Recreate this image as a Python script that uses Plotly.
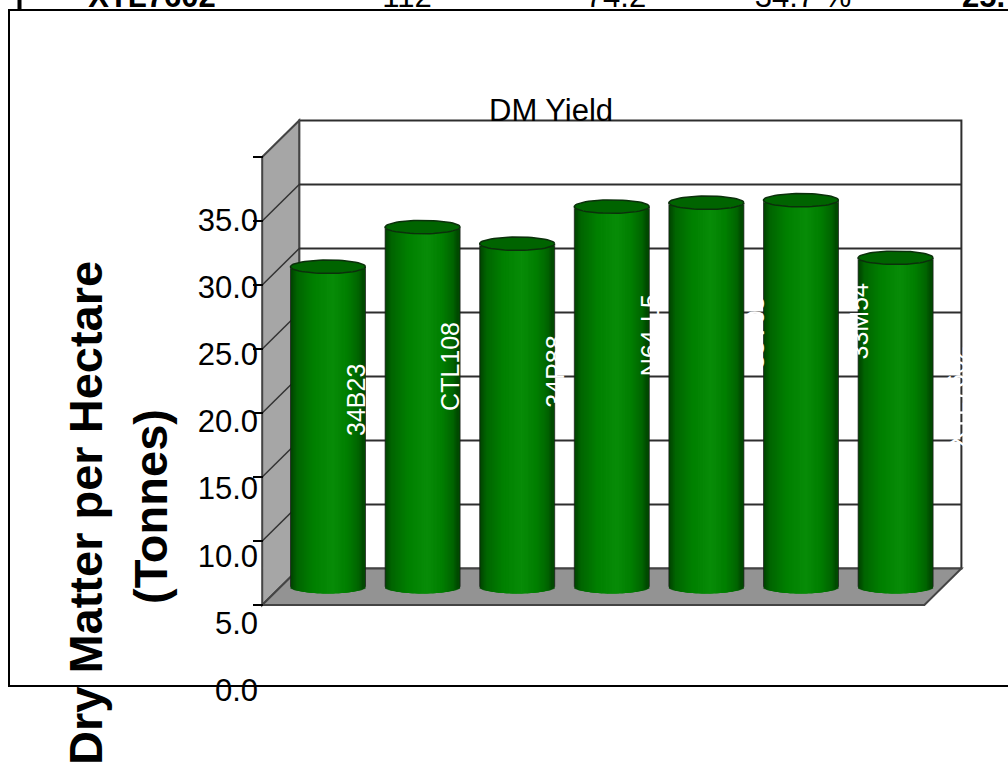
import numpy as np
import plotly.graph_objects as go

# ---- data ----
categories = ["34B23", "CTL108", "34P88", "N64-L5", "33V08", "33M54", "XTL7602"]
dm_yield = [25.0, 28.1, 26.8, 29.7, 30.0, 30.2, 25.7]
axis_ticks = [0, 5, 10, 15, 20, 25, 30, 35]
axis_tick_labels = ["0.0", "5.0", "10.0", "15.0", "20.0", "25.0", "30.0", "35.0"]
table_row = ["XTL7602", "112", "74.2", "34.7 %", "25.7"]

# ---- layout constants ----
W, H = 1008, 764
FONT = "Liberation Sans"
X0_PX, X_UNIT = 309.5, 94.6      # category 0 centre and px per category
Y0_PX, Y_UNIT = 605.0, 12.8      # value 0 and px per value unit
LBL0_PX, LBL_UNIT = 690.0, 13.43 # the drifted label scale of the original
DX, DY = 37 / X_UNIT, 36.5 / Y_UNIT  # chart depth in data units
RX, RY = 37.5 / X_UNIT, 6.7 / Y_UNIT  # ellipse radii of a cylinder
STRIPS = 60

x_range = [-X0_PX / X_UNIT, (W - X0_PX) / X_UNIT]
y_range = [(Y0_PX - H) / Y_UNIT, Y0_PX / Y_UNIT]
y2_range = [(LBL0_PX - H) / LBL_UNIT, LBL0_PX / LBL_UNIT]

# label nudges (pixels) from each bar's category/value position
label_dx = [46.5, 46, 56, 57, 67, 76, 78]
label_dy = [-153, -168, -148, -153, -150, -143, -174]

# table remnant at the very top of the page
table_x_px = [152, 407, 616, 803, 962]
table_bold = [True, False, False, False, True]

# ---- cylinders ----
strip_w = 3.5 / X_UNIT
inset = strip_w / 2 / RX
ts = np.linspace(-1 + inset, 1 - inset, STRIPS)
stops_t = [-1, -0.8, -0.35, 0.15, 0.55, 0.85, 1]
stops_g = [58, 100, 128, 140, 126, 100, 62]
stops_rb = [0, 0, 0, 8, 0, 0, 0]


def strip_colour(t):
    g = np.interp(t, stops_t, stops_g)
    rb = np.interp(t, stops_t, stops_rb)
    return f"rgb({rb:.0f},{g:.0f},{rb:.0f})"


bx, bw, bb, bh, bc = [], [], [], [], []
cap_x, cap_y = [], []
edge_x, edge_y = [], []
theta = np.linspace(0, 2 * np.pi, 60)
for i, v in enumerate(dm_yield):
    cx = i + DX / 2
    floor = DY / 2
    for t in ts:
        lift = RY * np.sqrt(max(0, 1 - t * t))
        bx.append(cx + RX * t)
        bw.append(strip_w)
        bb.append(floor - lift)
        bh.append(v)
        bc.append(strip_colour(t))
    cap_x += list(cx + RX * np.cos(theta)) + [None]
    cap_y += list(floor + v + RY * np.sin(theta)) + [None]
    edge_x += [cx - RX, cx - RX, None, cx + RX, cx + RX, None]
    edge_y += [floor, floor + v, None, floor, floor + v, None]

fig = go.Figure()
fig.add_bar(x=bx, y=bh, base=bb, width=bw, marker=dict(color=bc, line=dict(width=0)),
            hoverinfo="skip", showlegend=False)
fig.add_scatter(x=edge_x, y=edge_y, mode="lines", line=dict(color="rgba(25,25,25,0.7)", width=1),
                hoverinfo="skip", showlegend=False)
fig.add_scatter(x=cap_x, y=cap_y, mode="lines", fill="toself", fillcolor="#006400",
                line=dict(color="#0b300b", width=1.5), hoverinfo="skip", showlegend=False)
# carries the drifted tick-label axis
fig.add_scatter(x=[0] * len(axis_ticks), y=axis_ticks, yaxis="y2", mode="lines", opacity=0,
                hoverinfo="skip", showlegend=False)
# table remnant, clipped by a thin subplot at the top
for tx, txt, bold in zip(table_x_px, table_row, table_bold):
    pos = "top right" if txt == table_row[-1] else "top center"
    fig.add_scatter(x=[tx], y=[-6], xaxis="x3", yaxis="y3", mode="text", text=[txt],
                    textposition=pos, cliponaxis=True, hoverinfo="skip", showlegend=False,
                    textfont=dict(family=FONT, size=31, color="black",
                                  weight="bold" if bold else "normal"))

# ---- walls, floor, grid ----
top = axis_ticks[-1]
lo, hi = -0.5, len(categories) - 0.5
wall = "#444444"
shapes = []


def poly(pts, fill, lw=1.5, col=wall):
    d = "M" + " L".join(f"{x},{y}" for x, y in pts) + " Z"
    return dict(type="path", path=d, xref="x", yref="y", layer="below", fillcolor=fill,
                line=dict(color=col, width=lw))


shapes.append(poly([(lo + DX, DY), (hi + DX, DY), (hi + DX, top + DY), (lo + DX, top + DY)], "white", 2, "#2e2e2e"))
shapes.append(poly([(lo, 0), (lo + DX, DY), (lo + DX, top + DY), (lo, top)], "#a6a6a6", 2))
shapes.append(poly([(lo, 0), (lo + DX, DY), (hi + DX, DY), (hi, 0)], "#939393", 2))
for v in axis_ticks[1:-1]:
    shapes.append(dict(type="line", xref="x", yref="y", layer="below", x0=lo, y0=v, x1=lo + DX, y1=v + DY,
                       line=dict(color="#333333", width=1.5)))
    shapes.append(dict(type="line", xref="x", yref="y", layer="below", x0=lo + DX, y0=v + DY, x1=hi + DX, y1=v + DY,
                       line=dict(color="#2e2e2e", width=2.2)))

# ---- frame around the embedded chart ----
shapes.append(dict(type="path", xref="paper", yref="paper", layer="below",
                   path=f"M1,{1 - 10 / H} L{9 / W},{1 - 10 / H} L{9 / W},{1 - 686 / H} L1,{1 - 686 / H}",
                   line=dict(color="black", width=2)))
shapes.append(dict(type="line", xref="paper", yref="paper", layer="below",
                   x0=19.5 / W, x1=19.5 / W, y0=1 - 10 / H, y1=1, line=dict(color="black", width=4)))

# ---- text ----
ann = []
for i, (name, v) in enumerate(zip(categories, dm_yield)):
    ann.append(dict(x=i, y=v, xref="x", yref="y", text=name, textangle=-90, showarrow=False,
                    xanchor="center", yanchor="bottom", xshift=label_dx[i], yshift=label_dy[i],
                    font=dict(family=FONT, size=25, color="white")))
ann.append(dict(x=551 / W, y=1 - 110 / H, xref="paper", yref="paper", text="DM Yield", showarrow=False,
                xanchor="center", yanchor="middle", font=dict(family=FONT, size=31, color="black")))
ann.append(dict(x=85 / W, y=1 - 513 / H, xref="paper", yref="paper", text="Dry Matter per Hectare",
                textangle=-90, showarrow=False, xanchor="center", yanchor="middle",
                font=dict(family=FONT, size=47, color="black", weight="bold")))
ann.append(dict(x=150 / W, y=1 - 507 / H, xref="paper", yref="paper", text="(Tonnes)",
                textangle=-90, showarrow=False, xanchor="center", yanchor="middle",
                font=dict(family=FONT, size=47, color="black", weight="bold")))

fig.update_layout(
    width=W, height=H, margin=dict(l=0, r=0, t=0, b=0, pad=0),
    paper_bgcolor="white", plot_bgcolor="rgba(0,0,0,0)", showlegend=False,
    barmode="overlay", shapes=shapes, annotations=ann,
    xaxis=dict(range=x_range, visible=False, domain=[0, 1]),
    yaxis=dict(range=y_range, domain=[0, 1], anchor="free", position=263 / W, side="left",
               tickmode="array", tickvals=axis_ticks, ticks="outside", ticklen=10, tickwidth=2,
               tickcolor="black", showticklabels=False, showgrid=False, zeroline=False, showline=False),
    yaxis2=dict(range=y2_range, overlaying="y", anchor="free", position=258 / W, side="left",
                tickmode="array", tickvals=axis_ticks, ticktext=axis_tick_labels, ticks="",
                showgrid=False, zeroline=False, showline=False,
                tickfont=dict(family=FONT, size=31, color="black")),
    xaxis3=dict(range=[0, W], visible=False, domain=[0, 1], anchor="y3"),
    yaxis3=dict(range=[0, 9], visible=False, domain=[1 - 9 / H, 1], anchor="x3"),
)
fig.write_html("out.html", config=dict(displayModeBar=False),
               post_script="document.body.style.margin='0';document.body.style.overflow='hidden';")
